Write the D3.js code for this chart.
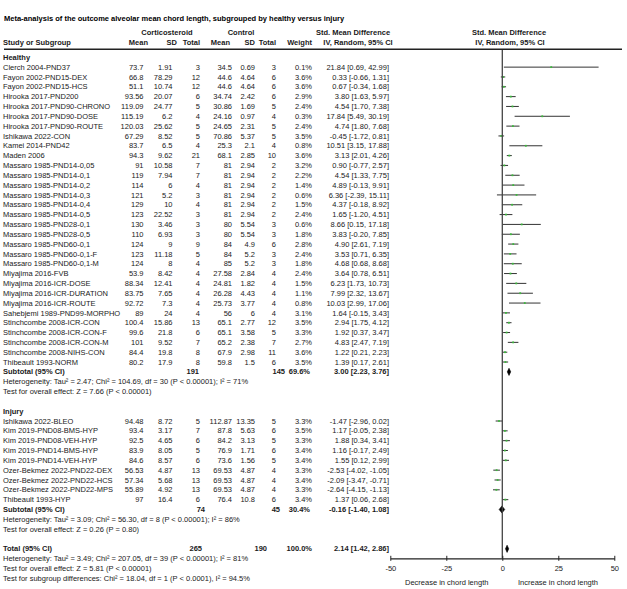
<!DOCTYPE html>
<html><head><meta charset="utf-8">
<script src="https://cdn.jsdelivr.net/npm/d3@7/dist/d3.min.js"></script>
<style>
body{margin:0;background:#fff;}
svg text{font-family:"Liberation Sans",Arial,Helvetica,sans-serif;font-size:7.5px;fill:#1a1a1a;}
</style></head>
<body><svg id="c" width="627" height="589"></svg>
<script>
// [study, tMean, tSD, tTotal, cMean, cSD, cTotal, weight%, SMD, lower, upper]
const healthy = [
 ["Clerch 2004-PND37",73.7,1.91,3,34.5,0.69,3,0.1,21.84,0.69,42.99],
 ["Fayon 2002-PND15-DEX",66.8,78.29,12,44.6,4.64,6,3.6,0.33,-0.66,1.31],
 ["Fayon 2002-PND15-HCS",51.1,10.74,12,44.6,4.64,6,3.6,0.67,-0.34,1.68],
 ["Hirooka 2017-PND200",93.56,20.07,6,34.74,2.42,6,2.9,3.80,1.63,5.97],
 ["Hirooka 2017-PND90-CHRONO",119.09,24.77,5,30.86,1.69,5,2.4,4.54,1.70,7.38],
 ["Hirooka 2017-PND90-DOSE",115.19,6.2,4,24.16,0.97,4,0.3,17.84,5.49,30.19],
 ["Hirooka 2017-PND90-ROUTE",120.03,25.62,5,24.65,2.31,5,2.4,4.74,1.80,7.68],
 ["Ishikawa 2022-CON",67.29,8.52,5,70.86,5.37,5,3.5,-0.45,-1.72,0.81],
 ["Kamei 2014-PND42",83.7,6.5,4,25.3,2.1,4,0.8,10.51,3.15,17.88],
 ["Maden 2006",94.3,9.62,21,68.1,2.85,10,3.6,3.13,2.01,4.26],
 ["Massaro 1985-PND14-0,05",91,10.58,7,81,2.94,2,3.2,0.90,-0.77,2.57],
 ["Massaro 1985-PND14-0,1",119,7.94,7,81,2.94,2,2.2,4.54,1.33,7.75],
 ["Massaro 1985-PND14-0,2",114,6,4,81,2.94,2,1.4,4.89,-0.13,9.91],
 ["Massaro 1985-PND14-0,3",121,5.2,3,81,2.94,2,0.6,6.36,-2.39,15.11],
 ["Massaro 1985-PND14-0,4",129,10,4,81,2.94,2,1.5,4.37,-0.18,8.92],
 ["Massaro 1985-PND14-0,5",123,22.52,3,81,2.94,2,2.4,1.65,-1.20,4.51],
 ["Massaro 1985-PND28-0,1",130,3.46,3,80,5.54,3,0.6,8.66,0.15,17.18],
 ["Massaro 1985-PND28-0,5",110,6.93,3,80,5.54,3,1.8,3.83,-0.20,7.85],
 ["Massaro 1985-PND60-0,1",124,9,9,84,4.9,6,2.8,4.90,2.61,7.19],
 ["Massaro 1985-PND60-0,1-F",123,11.18,5,84,5.2,3,2.4,3.53,0.71,6.35],
 ["Massaro 1985-PND60-0,1-M",124,8,4,85,5.2,3,1.8,4.68,0.68,8.68],
 ["Miyajima 2016-FVB",53.9,8.42,4,27.58,2.84,4,2.4,3.64,0.78,6.51],
 ["Miyajima 2016-ICR-DOSE",88.34,12.41,4,24.81,1.82,4,1.5,6.23,1.73,10.73],
 ["Miyajima 2016-ICR-DURATION",83.75,7.65,4,26.28,4.43,4,1.1,7.99,2.32,13.67],
 ["Miyajima 2016-ICR-ROUTE",92.72,7.3,4,25.73,3.77,4,0.8,10.03,2.99,17.06],
 ["Sahebjemi 1989-PND99-MORPHO",89,24,4,56,6,4,3.1,1.64,-0.15,3.43],
 ["Stinchcombe 2008-ICR-CON",100.4,15.86,13,65.1,2.77,12,3.5,2.94,1.75,4.12],
 ["Stinchcombe 2008-ICR-CON-F",99.6,21.8,6,65.1,3.58,5,3.3,1.92,0.37,3.47],
 ["Stinchcombe 2008-ICR-CON-M",101,9.52,7,65.2,2.38,7,2.7,4.83,2.47,7.19],
 ["Stinchcombe 2008-NIHS-CON",84.4,19.8,8,67.9,2.98,11,3.6,1.22,0.21,2.23],
 ["Thibeault 1993-NORM",80.2,17.9,8,59.8,1.5,6,3.5,1.39,0.17,2.61]
];
const injury = [
 ["Ishikawa 2022-BLEO",94.48,8.72,5,112.87,13.35,5,3.3,-1.47,-2.96,0.02],
 ["Kim 2019-PND08-BMS-HYP",93.4,3.17,7,87.8,5.63,6,3.5,1.17,-0.05,2.38],
 ["Kim 2019-PND08-VEH-HYP",92.5,4.65,6,84.2,3.13,5,3.3,1.88,0.34,3.41],
 ["Kim 2019-PND14-BMS-HYP",83.9,8.05,5,76.9,1.71,6,3.4,1.16,-0.17,2.49],
 ["Kim 2019-PND14-VEH-HYP",84.6,8.57,6,73.6,1.56,5,3.4,1.55,0.12,2.99],
 ["Ozer-Bekmez 2022-PND22-DEX",56.53,4.87,13,69.53,4.87,4,3.3,-2.53,-4.02,-1.05],
 ["Ozer-Bekmez 2022-PND22-HCS",57.34,5.68,13,69.53,4.87,4,3.4,-2.09,-3.47,-0.71],
 ["Ozer-Bekmez 2022-PND22-MPS",55.89,4.92,13,69.53,4.87,4,3.3,-2.64,-4.15,-1.13],
 ["Thibeault 1993-HYP",97,16.4,6,76.4,10.8,6,3.4,1.37,0.06,2.68]
];
// [label, tTotal, cTotal, weight, SMD, lower, upper]
const subtotals = [
 ["Subtotal (95% CI)",191,145,69.6,3.00,2.23,3.76],
 ["Subtotal (95% CI)",74,45,30.4,-0.16,-1.40,1.08]
];
const overall = ["Total (95% CI)",265,190,100.0,2.14,1.42,2.86];
const groupNames = ["Healthy","Injury"];
const hetTexts = [
 ["Heterogeneity: Tau\u00b2 = 2.47; Chi\u00b2 = 104.69, df = 30 (P < 0.00001); I\u00b2 = 71%","Test for overall effect: Z = 7.66 (P < 0.00001)"],
 ["Heterogeneity: Tau\u00b2 = 3.09; Chi\u00b2 = 56.30, df = 8 (P < 0.00001); I\u00b2 = 86%","Test for overall effect: Z = 0.26 (P = 0.80)"]
];
const totalTexts = [
 "Heterogeneity: Tau\u00b2 = 3.49; Chi\u00b2 = 207.05, df = 39 (P < 0.00001); I\u00b2 = 81%",
 "Test for overall effect: Z = 5.81 (P < 0.00001)",
 "Test for subgroup differences: Chi\u00b2 = 18.04, df = 1 (P < 0.0001), I\u00b2 = 94.5%"
];
const axisTicks = [-50,-25,0,25,50];
const axisLabels = ["Decrease in chord length","Increase in chord length"];
const titleText = "Meta-analysis of the outcome alveolar mean chord length, subgrouped by healthy versus injury";

const svg = d3.select("#c");
const x = d3.scaleLinear().domain([-50,50]).range([390.3,614.3]);
const y0 = 57.3, step = 9.83;
const rowY = i => y0 + i*step;
const fmt2 = v => v.toFixed(2);
const ci = (e,l,h) => `${fmt2(e)} [${fmt2(l)}, ${fmt2(h)}]`;

function txt(t, xx, yy, anchor, bold){
  return svg.append("text").attr("x",xx).attr("y",yy).attr("dy","0.35em")
    .attr("text-anchor",anchor||"start").style("font-weight",bold?"bold":"normal").text(t);
}
// title and headers
txt(titleText,4,18,"start",true).style("fill","#000");
txt("Corticosteroid",167,32,"middle",true);
txt("Control",241,32,"middle",true);
txt("Std. Mean Difference",353,32,"middle",true);
txt("Std. Mean Difference",509,32,"middle",true);
txt("Study or Subgroup",3,42.5,"start",true);
[["Mean",148],["SD",177],["Total",200],["Mean",230],["SD",255],["Total",276],["Weight",312]]
  .forEach(h=>txt(h[0],h[1],42.5,"end",true));
txt("IV, Random, 95% CI",358,42.5,"middle",true);
txt("IV, Random, 95% CI",510,42.5,"middle",true);

svg.append("line").attr("x1",4).attr("x2",622).attr("y1",49.3).attr("y2",49.3)
  .attr("stroke","#222").attr("stroke-width",1.4);

const colX = [143.5,172.5,200,232,255,276];
const groups = [healthy, injury];
const startIdx = [0,36];
function diamond(e,l,h,yy){
  const hh=3.6;
  svg.append("path").attr("d",`M${x(l)},${yy}L${x(e)},${yy-hh}L${x(h)},${yy}L${x(e)},${yy+hh}Z`)
    .attr("fill","#000").attr("stroke","#000").attr("stroke-width",0.6);
}
groups.forEach((rows,g)=>{
  const base = startIdx[g];
  txt(groupNames[g],3,rowY(base),"start",true);
  rows.forEach((r,i)=>{
    const yy = rowY(base+1+i);
    txt(r[0],3,yy);
    for(let k=0;k<6;k++) txt(String(r[k+1]),colX[k],yy,"end");
    txt(r[7].toFixed(1)+"%",312,yy,"end");
    txt(ci(r[8],r[9],r[10]),389,yy,"end");
    svg.append("line").attr("x1",x(r[9])).attr("x2",x(r[10])).attr("y1",yy).attr("y2",yy)
      .attr("stroke","#333").attr("stroke-width",1);
    svg.append("rect").attr("x",x(r[8])-0.9).attr("y",yy-0.9).attr("width",1.8).attr("height",1.8)
      .attr("fill","#3cb83c");
  });
  const s = subtotals[g];
  const sy = rowY(base+rows.length+1);
  txt(s[0],3,sy,"start",true);
  txt(String(s[1]), g===0?199:205, sy,"end",true);
  txt(String(s[2]), g===0?285:280, sy,"end",true);
  txt(s[3].toFixed(1)+"%", 310, sy,"end",true);
  txt(ci(s[4],s[5],s[6]),389,sy,"end",true);
  diamond(s[4],s[5],s[6],sy);
  txt(hetTexts[g][0],3,rowY(base+rows.length+2));
  txt(hetTexts[g][1],3,rowY(base+rows.length+3));
});
const ty = rowY(50);
txt(overall[0],3,ty,"start",true);
txt(String(overall[1]),202,ty,"end",true);
txt(String(overall[2]),267,ty,"end",true);
txt(overall[3].toFixed(1)+"%",312,ty,"end",true);
txt(ci(overall[4],overall[5],overall[6]),389,ty,"end",true);
diamond(overall[4],overall[5],overall[6],ty);
totalTexts.forEach((t,i)=>txt(t,3,rowY(51+i)));

// zero line
const axisY = 558.3;
svg.append("line").attr("x1",x(0)).attr("x2",x(0)).attr("y1",50).attr("y2",axisY)
  .attr("stroke","#444").attr("stroke-width",1.3);
// axis
const ax = svg.append("g").attr("transform",`translate(0,${axisY})`)
  .call(d3.axisBottom(x).tickValues(axisTicks).tickSizeInner(3).tickSizeOuter(0).tickFormat(d=>String(d)));
ax.select(".domain").attr("stroke","#222").attr("stroke-width",1.2);
ax.selectAll(".tick line").attr("stroke","#222").attr("y1",-2.5).attr("y2",2.5);
ax.selectAll(".tick text").attr("y",9.7).attr("dy","0.35em").style("font-size","7.5px")
  .style("font-family",'"Liberation Sans",Arial,sans-serif').attr("fill","#1a1a1a");
txt(axisLabels[0],446.7,582,"middle");
txt(axisLabels[1],558,582,"middle");
</script></body></html>
